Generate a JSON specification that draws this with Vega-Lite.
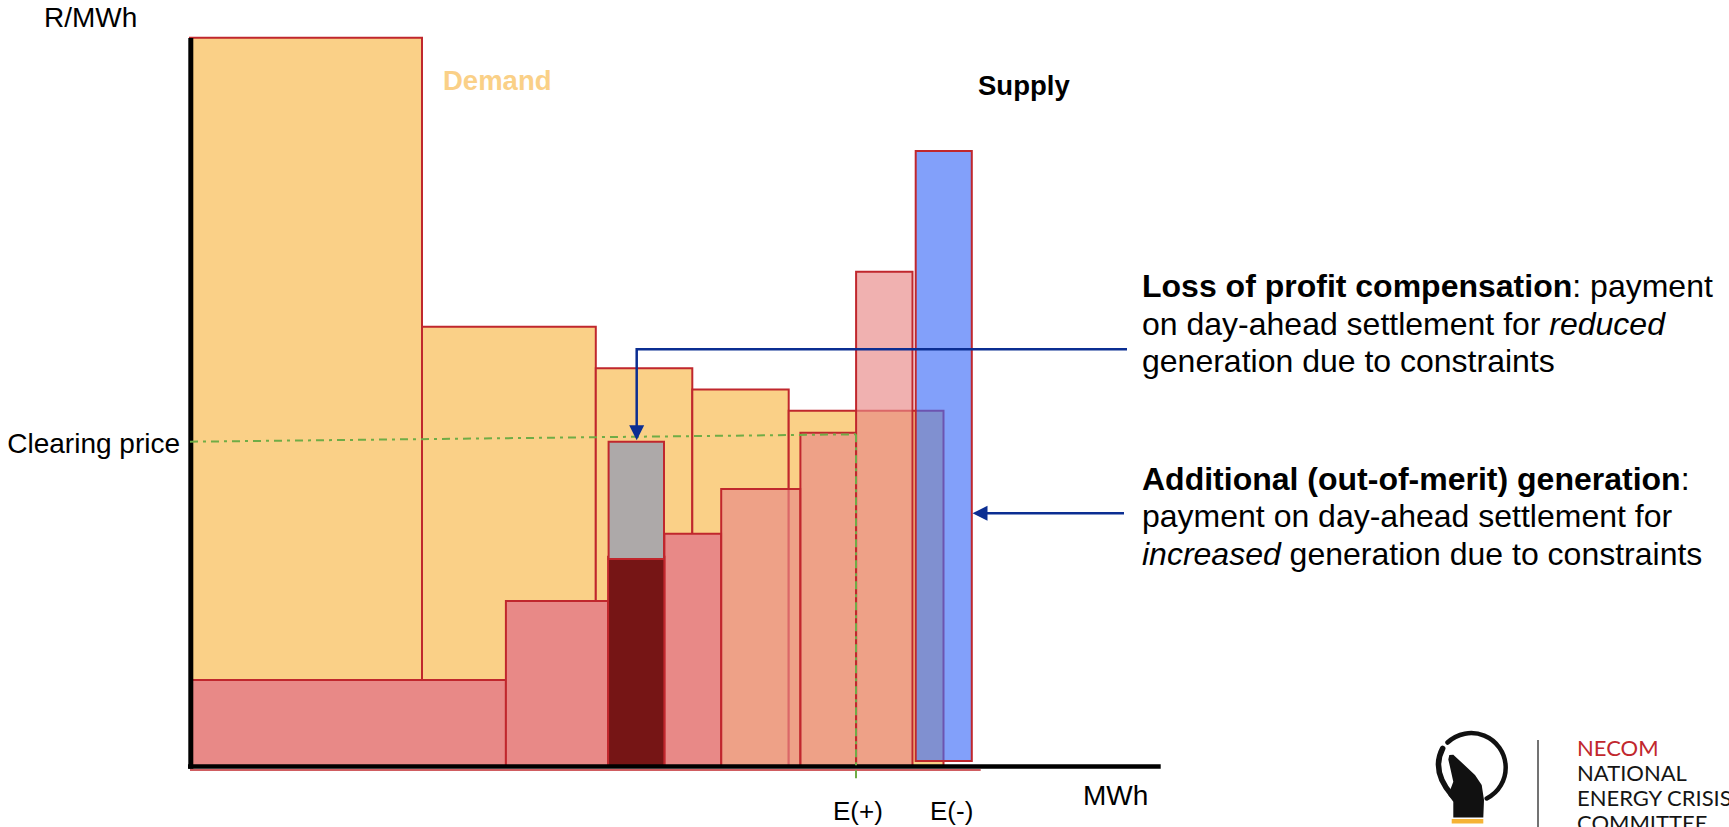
{
  "$schema": "https://vega.github.io/schema/vega-lite/v6.json",
  "width": 1729,
  "height": 827,
  "padding": 0,
  "autosize": {"type": "none"},
  "background": "#ffffff",
  "config": {"view": {"stroke": null}, "text": {"font": "Liberation Sans"}},
  "datasets": {
    "demand": [
      {"name": "D1", "x": 0, "x2": 232, "y": 0, "y2": 728.8},
      {"name": "D2", "x": 232, "x2": 405.8, "y": 0, "y2": 439.8},
      {"name": "D3", "x": 405.8, "x2": 502.3, "y": 0, "y2": 398.2},
      {"name": "D4", "x": 502.3, "x2": 598.7, "y": 0, "y2": 377},
      {"name": "D5", "x": 598.7, "x2": 753.5, "y": 0, "y2": 355.8}
    ],
    "supplyPink": [
      {"name": "S1", "x": 0, "x2": 315.9, "y": 0, "y2": 86.5},
      {"name": "S2", "x": 315.9, "x2": 418.1, "y": 0, "y2": 165.5},
      {"name": "S4", "x": 474.4, "x2": 531.2, "y": 0, "y2": 232.8}
    ],
    "supplyDark": [
      {"name": "S3", "x": 418.1, "x2": 474.4, "y": 0, "y2": 209.8}
    ],
    "supplyLight": [
      {"name": "S5", "x": 531.2, "x2": 610.4, "y": 0, "y2": 277.5},
      {"name": "S6", "x": 610.4, "x2": 666.1, "y": 0, "y2": 333.8},
      {"name": "S7", "x": 666.1, "x2": 722.5, "y": 0, "y2": 494.8}
    ],
    "supplyBlue": [
      {"name": "B", "x": 725.7, "x2": 781.8, "y": 5.5, "y2": 615.5}
    ],
    "reduced": [
      {"name": "G", "x": 418.6, "x2": 474, "y": 207.5, "y2": 324.8}
    ],
    "axisY": [{"x": 0.8, "x2": 0.8, "y": -2.2, "y2": 728.5}],
    "axisX": [{"x": -2, "x2": 970.7, "y": 0, "y2": 0}],
    "baseRed": [{"x": 0, "x2": 790.7, "y": -3.5, "y2": -3.5}],
    "green": [
      {"seg": "price", "o": 1, "x": 0, "y": 324.8},
      {"seg": "price", "o": 2, "x": 666, "y": 332.2},
      {"seg": "eplus", "o": 1, "x": 666, "y": 332.2},
      {"seg": "eplus", "o": 2, "x": 666, "y": -13.5}
    ],
    "arrows": [
      {"seg": "a1", "o": 1, "x": 937, "y": 417.2},
      {"seg": "a1", "o": 2, "x": 446.7, "y": 417.2},
      {"seg": "a1", "o": 3, "x": 446.7, "y": 336},
      {"seg": "a2", "o": 1, "x": 934, "y": 253.2},
      {"seg": "a2", "o": 2, "x": 792, "y": 253.2}
    ],
    "headDown": [{"x": 446.7, "y": 333.8}],
    "headLeft": [{"x": 790, "y": 253.2}],
    "txtLeft28": [
      {"text": "R/MWh", "x": -146, "y": 739.8},
      {"text": "MWh", "x": 893, "y": -38.5}
    ],
    "txtRight28": [
      {"text": "Clearing price", "x": -10, "y": 313.2}
    ],
    "txtE": [
      {"text": "E(+)", "x": 643, "y": -53.5},
      {"text": "E(-)", "x": 740, "y": -53.5}
    ],
    "txtDemand": [{"text": "Demand", "x": 253, "y": 676.5}],
    "txtSupply": [{"text": "Supply", "x": 788, "y": 672}],
    "annBold": [
      {"text": "Loss of profit compensation", "x": 952, "y": 469.5},
      {"text": "Additional (out-of-merit) generation", "x": 952, "y": 277}
    ],
    "annRegular": [
      {"text": ": payment", "x": 1382.3, "y": 469.5},
      {"text": "on day-ahead settlement for", "x": 952, "y": 432},
      {"text": "generation due to constraints", "x": 952, "y": 394.5},
      {"text": ":", "x": 1490.7, "y": 277},
      {"text": "payment on day-ahead settlement for", "x": 952, "y": 239.5},
      {"text": "generation due to constraints", "x": 1099.6, "y": 202}
    ],
    "annItalic": [
      {"text": "reduced", "x": 1359.3, "y": 432},
      {"text": "increased", "x": 952, "y": 202}
    ],
    "logoRed": [{"text": "NECOM", "x": 1387, "y": 10.5}],
    "logoDark": [
      {"text": "NATIONAL", "x": 1387, "y": -14.5},
      {"text": "ENERGY CRISIS", "x": 1387, "y": -39.5},
      {"text": "COMMITTEE", "x": 1387, "y": -64.5}
    ],
    "logoDivider": [{"x": 1348, "x2": 1348, "y": 26.5, "y2": -60.5}],
    "logoIcon": [{"x": 1281, "y": -1.2}]
  },
  "encoding": {
    "x": {"field": "x", "type": "quantitative", "scale": {"domain": [-190, 1539], "nice": false, "zero": false}, "axis": null},
    "y": {"field": "y", "type": "quantitative", "scale": {"domain": [-60.5, 766.5], "nice": false, "zero": false}, "axis": null}
  },
  "layer": [
    {
      "data": {"name": "demand"},
      "mark": {"type": "rect", "fill": "#FAD087", "stroke": "#C0272D", "strokeWidth": 2},
      "encoding": {"x2": {"field": "x2"}, "y2": {"field": "y2"}}
    },
    {
      "data": {"name": "supplyPink"},
      "mark": {"type": "rect", "fill": "#E88987", "stroke": "#C0272D", "strokeWidth": 2},
      "encoding": {"x2": {"field": "x2"}, "y2": {"field": "y2"}}
    },
    {
      "data": {"name": "supplyDark"},
      "mark": {"type": "rect", "fill": "#761515", "stroke": "#C0272D", "strokeWidth": 2},
      "encoding": {"x2": {"field": "x2"}, "y2": {"field": "y2"}}
    },
    {
      "data": {"name": "supplyLight"},
      "mark": {"type": "rect", "fill": "#E88987", "fillOpacity": 0.66, "stroke": "#C0272D", "strokeWidth": 2},
      "encoding": {"x2": {"field": "x2"}, "y2": {"field": "y2"}}
    },
    {
      "data": {"name": "supplyBlue"},
      "mark": {"type": "rect", "fill": "#3F6DF7", "fillOpacity": 0.65, "stroke": "#C0272D", "strokeWidth": 2},
      "encoding": {"x2": {"field": "x2"}, "y2": {"field": "y2"}}
    },
    {
      "data": {"name": "reduced"},
      "mark": {"type": "rect", "fill": "#ADA9A9", "stroke": "#C0272D", "strokeWidth": 2},
      "encoding": {"x2": {"field": "x2"}, "y2": {"field": "y2"}}
    },
    {
      "data": {"name": "baseRed"},
      "mark": {"type": "rule", "stroke": "#C0272D", "strokeWidth": 1.5},
      "encoding": {"x2": {"field": "x2"}, "y2": {"field": "y2"}}
    },
    {
      "data": {"name": "axisX"},
      "mark": {"type": "rule", "stroke": "#000000", "strokeWidth": 4.5},
      "encoding": {"x2": {"field": "x2"}, "y2": {"field": "y2"}}
    },
    {
      "data": {"name": "axisY"},
      "mark": {"type": "rule", "stroke": "#000000", "strokeWidth": 5},
      "encoding": {"x2": {"field": "x2"}, "y2": {"field": "y2"}}
    },
    {
      "data": {"name": "green"},
      "mark": {"type": "line", "stroke": "#6FAC46", "strokeWidth": 2, "strokeDash": [8, 5, 3, 5]},
      "encoding": {"detail": {"field": "seg"}, "order": {"field": "o"}}
    },
    {
      "data": {"name": "arrows"},
      "mark": {"type": "line", "stroke": "#0B2E92", "strokeWidth": 2.5},
      "encoding": {"detail": {"field": "seg"}, "order": {"field": "o"}}
    },
    {
      "data": {"name": "headDown"},
      "mark": {"type": "point", "shape": "M-1,-1L1,-1L0,1Z", "size": 225, "filled": true, "fill": "#0B2E92", "opacity": 1, "strokeWidth": 0}
    },
    {
      "data": {"name": "headLeft"},
      "mark": {"type": "point", "shape": "M1,-1L1,1L-1,0Z", "size": 225, "filled": true, "fill": "#0B2E92", "opacity": 1, "strokeWidth": 0}
    },
    {
      "data": {"name": "txtLeft28"},
      "mark": {"type": "text", "fontSize": 28, "align": "left", "baseline": "alphabetic", "fill": "#000000"},
      "encoding": {"text": {"field": "text"}}
    },
    {
      "data": {"name": "txtRight28"},
      "mark": {"type": "text", "fontSize": 28, "align": "right", "baseline": "alphabetic", "fill": "#000000"},
      "encoding": {"text": {"field": "text"}}
    },
    {
      "data": {"name": "txtE"},
      "mark": {"type": "text", "fontSize": 26, "align": "left", "baseline": "alphabetic", "fill": "#000000"},
      "encoding": {"text": {"field": "text"}}
    },
    {
      "data": {"name": "txtDemand"},
      "mark": {"type": "text", "fontSize": 27.5, "fontWeight": "bold", "align": "left", "baseline": "alphabetic", "fill": "#FAD087"},
      "encoding": {"text": {"field": "text"}}
    },
    {
      "data": {"name": "txtSupply"},
      "mark": {"type": "text", "fontSize": 27.5, "fontWeight": "bold", "align": "left", "baseline": "alphabetic", "fill": "#000000"},
      "encoding": {"text": {"field": "text"}}
    },
    {
      "data": {"name": "annBold"},
      "mark": {"type": "text", "fontSize": 32, "fontWeight": "bold", "align": "left", "baseline": "alphabetic", "fill": "#000000"},
      "encoding": {"text": {"field": "text"}}
    },
    {
      "data": {"name": "annRegular"},
      "mark": {"type": "text", "fontSize": 32, "align": "left", "baseline": "alphabetic", "fill": "#000000"},
      "encoding": {"text": {"field": "text"}}
    },
    {
      "data": {"name": "annItalic"},
      "mark": {"type": "text", "fontSize": 32, "fontStyle": "italic", "align": "left", "baseline": "alphabetic", "fill": "#000000"},
      "encoding": {"text": {"field": "text"}}
    },
    {
      "data": {"name": "logoDivider"},
      "mark": {"type": "rule", "stroke": "#444444", "strokeWidth": 1.5},
      "encoding": {"x2": {"field": "x2"}, "y2": {"field": "y2"}}
    },
    {
      "data": {"name": "logoRed"},
      "mark": {"type": "text", "font": "Lato", "fontWeight": 400, "fontSize": 22, "align": "left", "baseline": "alphabetic", "fill": "#C1272D"},
      "encoding": {"text": {"field": "text"}}
    },
    {
      "data": {"name": "logoDark"},
      "mark": {"type": "text", "font": "Lato", "fontWeight": 400, "fontSize": 22, "align": "left", "baseline": "alphabetic", "fill": "#151515"},
      "encoding": {"text": {"field": "text"}}
    },
    {
      "data": {"name": "logoIcon"},
      "mark": {"type": "point", "shape": "M-23.5,-25.2A34.5,34.5 0 1 1 15.7,30.7", "size": 4, "filled": false, "fill": "transparent", "stroke": "#111111", "strokeWidth": 4.5, "strokeCap": "round", "opacity": 1}
    },
    {
      "data": {"name": "logoIcon"},
      "mark": {"type": "point", "shape": "M-28.3,-19.3Q-40,3 -19.3,27.3", "size": 4, "filled": false, "fill": "transparent", "stroke": "#111111", "strokeWidth": 5.5, "strokeCap": "round", "opacity": 1}
    },
    {
      "data": {"name": "logoIcon"},
      "mark": {"type": "point", "shape": "M-21.7,-12.7L-17.7,-13L-7.7,-3.7L4,7.3L10.7,17.3L13,32.3L12.3,49.7L-17.7,49.7L-17.7,34L-22.7,27.3L-17.7,14L-20.3,2.3L-22.7,-8.3Z", "size": 4, "filled": true, "fill": "#111111", "strokeWidth": 0, "opacity": 1}
    },
    {
      "data": {"name": "logoIcon"},
      "mark": {"type": "point", "shape": "M-19.3,51.3L12.3,51.3L12.3,55.7L-19.3,55.7Z", "size": 4, "filled": true, "fill": "#F5B335", "strokeWidth": 0, "opacity": 1}
    }
  ]
}
